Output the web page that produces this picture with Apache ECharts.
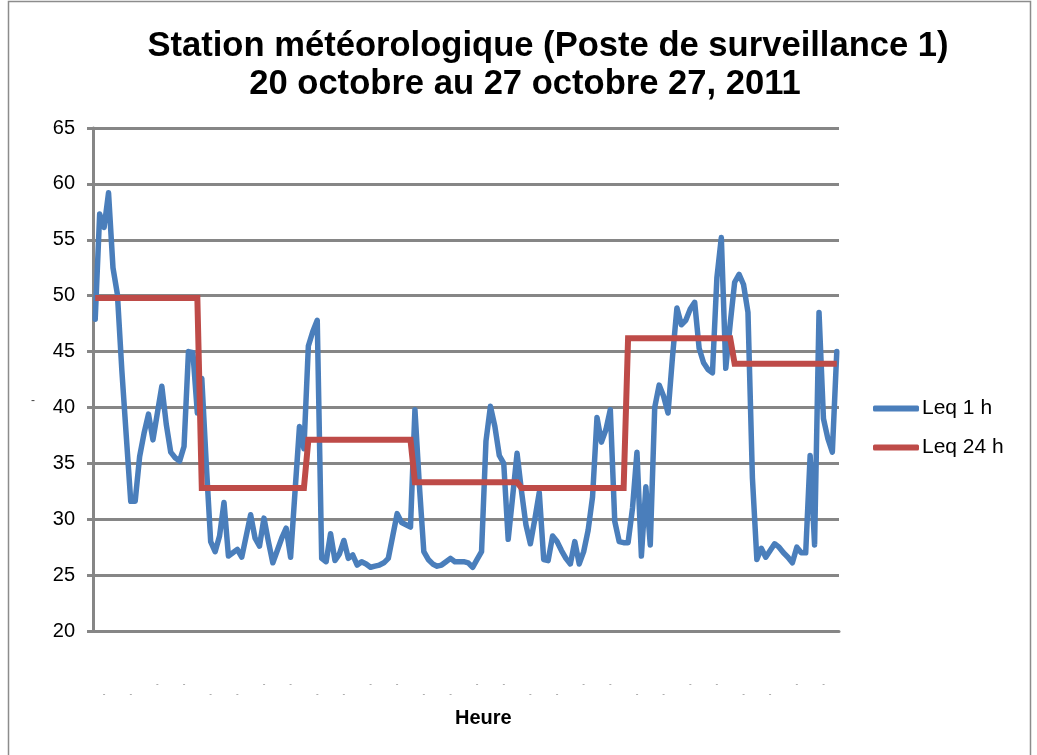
<!DOCTYPE html>
<html>
<head>
<meta charset="utf-8">
<script src="https://cdn.jsdelivr.net/npm/echarts@6/dist/echarts.min.js"></script>
<style>
  html, body { margin: 0; padding: 0; background: #fff; }
  #chart { width: 1037px; height: 755px; }
</style>
</head>
<body>
<div id="chart"></div>
<script>
// 7 days x 24 hourly readings, 20 to 27 October 2011
const days = ['20 oct', '21 oct', '22 oct', '23 oct', '24 oct', '25 oct', '26 oct'];

// Leq 1 h, dB(A)
const leq1h = [
  47.9, 57.3, 56.1, 59.2, 52.5, 50.1, 43.3, 37.4, 31.6, 31.6, 35.6, 37.7,
  39.4, 37.1, 39.5, 41.9, 38.5, 36.0, 35.5, 35.2, 36.5, 45.0, 44.9, 39.5,
  42.6, 35.0, 28.0, 27.1, 28.5, 31.5, 26.7, 27.0, 27.3, 26.6, 28.5, 30.4,
  28.3, 27.6, 30.1, 28.0, 26.1, 27.2, 28.3, 29.2, 26.6, 32.5, 38.3, 36.3,
  45.5, 46.8, 47.8, 26.5, 26.2, 28.7, 26.3, 26.9, 28.1, 26.5, 26.8, 25.9,
  26.2, 26.0, 25.7, 25.8, 25.9, 26.1, 26.5, 28.5, 30.5, 29.7, 29.5, 29.3,
  39.8, 33.0, 27.1, 26.4, 26.0, 25.8, 25.9, 26.2, 26.5, 26.2, 26.2, 26.2,
  26.1, 25.7, 26.4, 27.1, 37.0, 40.1, 38.3, 35.7, 35.0, 28.2, 32.0, 35.9,
  32.5, 29.5, 27.8, 30.0, 32.4, 26.4, 26.3, 28.5, 28.0, 27.2, 26.5, 26.0,
  28.0, 26.0, 27.1, 29.0, 32.0, 39.1, 36.9, 38.0, 39.8, 29.8, 28.0, 27.9,
  27.9, 31.0, 36.0, 26.7, 32.9, 27.7, 40.0, 42.0, 41.0, 39.5, 44.5, 48.9,
  47.4, 47.8, 48.8, 49.4, 45.3, 44.0, 43.4, 43.1, 51.6, 55.2, 43.5, 47.5,
  51.2, 51.9, 51.0, 48.5, 33.7, 26.4, 27.4, 26.6, 27.2, 27.8, 27.5, 27.0,
  26.6, 26.1, 27.5, 27.0, 27.0, 35.7, 27.7, 48.5, 39.0, 37.2, 36.0, 45.0
];

// Leq 24 h, one value per day
const leq24hDaily = [49.8, 32.8, 37.1, 33.3, 32.8, 46.2, 43.9];

const yTicks = { min: 20, max: 65, step: 5 };
const tickMark = '-';

// hourly categories and the daily value repeated over each hour of its day
const hours = [];
const leq24h = [];
days.forEach((d, di) => {
  for (let h = 0; h < 24; h++) {
    hours.push(d + ' ' + h + ':00');
    leq24h.push(leq24hDaily[di]);
  }
});

const FONT = '"Liberation Sans", Arial, sans-serif';
const GRID_GREY = '#868686';

const chart = echarts.init(document.getElementById('chart'));
chart.setOption({
  backgroundColor: '#fff',
  animation: false,
  title: [
    {
      text: 'Station météorologique (Poste de surveillance 1)',
      left: 543, top: 24, textAlign: 'center',
      textStyle: { fontFamily: FONT, fontSize: 34.6, fontWeight: 'bold', color: '#000' }
    },
    {
      text: '20 octobre au 27 octobre 27, 2011',
      left: 520, top: 62, textAlign: 'center',
      textStyle: { fontFamily: FONT, fontSize: 34.6, fontWeight: 'bold', color: '#000' }
    }
  ],
  legend: {
    orient: 'vertical',
    left: 873, top: 398, padding: 0,
    itemWidth: 46, itemHeight: 6, itemGap: 18,
    icon: 'roundRect',
    textStyle: { fontFamily: FONT, fontSize: 21, color: '#000', padding: [0, 0, 0, -2] },
    data: ['Leq 1 h', 'Leq 24 h']
  },
  grid: { left: 93, right: 198, top: 128, bottom: 124 },
  xAxis: {
    type: 'category',
    data: hours,
    boundaryGap: true,
    axisLine: { lineStyle: { color: GRID_GREY, width: 3 } },
    axisTick: { interval: 0, length: 5, lineStyle: { color: GRID_GREY, width: 1 } },
    axisLabel: {
      interval: (i) => i % 6 === 2,
      margin: 48,
      fontSize: 8, lineHeight: 10, color: '#777', fontFamily: FONT,
      formatter: (v, i) => (Math.floor((i - 2) / 12) % 2 === 0 ? '\n' : '') + tickMark
    },
    splitLine: { show: false }
  },
  yAxis: {
    type: 'value',
    min: yTicks.min, max: yTicks.max, interval: yTicks.step,
    axisLine: { show: true, lineStyle: { color: GRID_GREY, width: 3 } },
    axisTick: { show: true, length: 6, lineStyle: { color: GRID_GREY, width: 3 } },
    axisLabel: { fontFamily: FONT, fontSize: 20, color: '#000', margin: 18 },
    splitLine: { lineStyle: { color: GRID_GREY, width: 3 } }
  },
  series: [
    {
      name: 'Leq 1 h',
      type: 'line',
      data: leq1h,
      symbol: 'none',
      lineStyle: { color: '#4A7EBB', width: 5.5, join: 'round', cap: 'round' },
      itemStyle: { color: '#4A7EBB' },
      z: 2
    },
    {
      name: 'Leq 24 h',
      type: 'line',
      data: leq24h,
      symbol: 'none',
      lineStyle: { color: '#BE4B48', width: 6, join: 'miter' },
      itemStyle: { color: '#BE4B48' },
      z: 3
    }
  ],
  graphic: [
    {
      type: 'rect',
      shape: { x: 8.5, y: 1.5, width: 1022, height: 800 },
      style: { fill: 'none', stroke: '#8c8c8c', lineWidth: 1.5 },
      silent: true
    },
    {
      type: 'text', left: 31, top: 395,
      style: { text: '-', font: '12px ' + FONT, fill: '#444' }
    },
    {
      type: 'text', left: 455, top: 708,
      style: { text: 'Heure', font: 'bold 20px ' + FONT, fill: '#000' }
    }
  ]
});
</script>
</body>
</html>
